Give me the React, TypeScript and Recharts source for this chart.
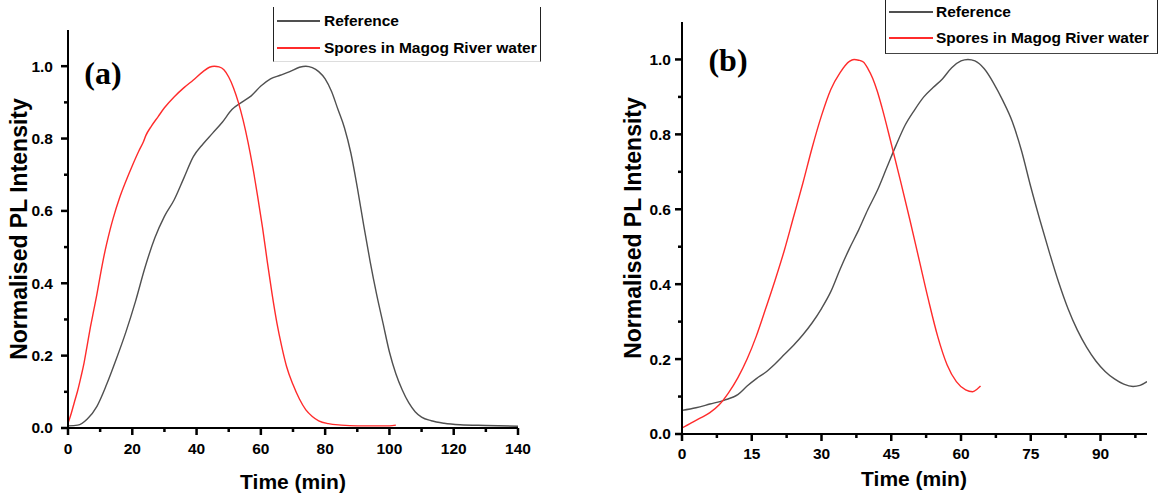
import { LineChart, Line, XAxis, YAxis } from "recharts";

// panel (a) series, [time in min, normalised intensity]
const refA = [
  [0, 0.006], [3, 0.008], [6, 0.025], [9, 0.06], [12, 0.12], [15, 0.19], [18, 0.265],
  [21, 0.35], [24, 0.445], [27, 0.525], [30, 0.585], [33, 0.63], [36, 0.69], [39, 0.75],
  [42, 0.785], [45, 0.815], [48, 0.845], [51, 0.88], [54, 0.9], [57, 0.918], [60, 0.945],
  [63, 0.965], [66, 0.975], [69, 0.985], [72, 0.997], [74, 1.0], [76, 0.996], [78, 0.985],
  [80, 0.965], [82, 0.93], [84, 0.88], [86, 0.83], [88, 0.76], [90, 0.665], [92, 0.56],
  [94, 0.46], [96, 0.37], [98, 0.29], [100, 0.21], [102, 0.15], [104, 0.105], [106, 0.07],
  [108, 0.045], [110, 0.03], [113, 0.02], [117, 0.013], [122, 0.009], [130, 0.007], [140, 0.005],
];
const sporesA = [
  [0, 0.013], [1, 0.04], [2, 0.072], [3, 0.103], [4, 0.14], [5, 0.18], [6, 0.23], [7, 0.28],
  [8, 0.325], [9, 0.37], [10, 0.42], [11, 0.467], [12, 0.508], [13, 0.545], [14, 0.578],
  [16, 0.635], [18, 0.682], [20, 0.725], [22, 0.765], [23.5, 0.792], [24.2, 0.808], [26, 0.835],
  [28, 0.86], [30, 0.885], [33, 0.915], [36, 0.94], [39, 0.962], [42, 0.985], [44, 0.997],
  [45.5, 1.0], [47, 0.998], [48.5, 0.99], [50, 0.97], [51.5, 0.94], [53, 0.9], [54.5, 0.85],
  [56, 0.79], [57.5, 0.72], [59, 0.64], [60.5, 0.555], [62, 0.46], [63.5, 0.37], [65, 0.29],
  [66.5, 0.225], [68, 0.17], [70, 0.12], [72, 0.08], [74, 0.05], [76, 0.032], [78, 0.02],
  [81, 0.012], [85, 0.008], [90, 0.006], [95, 0.006], [100, 0.006], [102, 0.008],
];

// panel (b) series
const refB = [
  [0, 0.063], [3, 0.07], [6, 0.08], [9, 0.09], [12, 0.105], [14, 0.128], [16, 0.148],
  [18, 0.165], [20, 0.187], [22, 0.212], [24, 0.237], [26, 0.265], [28, 0.297], [30, 0.335],
  [32, 0.38], [34, 0.44], [36, 0.495], [38, 0.545], [40, 0.6], [42, 0.65], [44, 0.71],
  [46, 0.77], [48, 0.825], [50, 0.865], [52, 0.9], [54, 0.925], [56, 0.948], [58, 0.978],
  [60, 0.996], [61.5, 1.0], [63, 0.996], [65, 0.975], [67, 0.937], [69, 0.89], [71, 0.835],
  [73, 0.757], [75, 0.66], [77, 0.57], [79, 0.485], [81, 0.405], [83, 0.335], [85, 0.278],
  [87, 0.232], [89, 0.195], [91, 0.167], [93, 0.147], [95, 0.133], [97, 0.127], [98.5, 0.13],
  [100, 0.14],
];
const sporesB = [
  [0, 0.016], [2, 0.03], [4, 0.043], [6, 0.057], [8, 0.078], [10, 0.11], [12, 0.15],
  [14, 0.2], [16, 0.262], [18, 0.335], [20, 0.41], [22, 0.49], [24, 0.58], [26, 0.67],
  [28, 0.765], [30, 0.85], [32, 0.92], [34, 0.965], [36, 0.995], [37, 1.0], [38, 0.998],
  [39, 0.993], [40, 0.975], [41, 0.95], [42, 0.915], [43, 0.872], [45, 0.775], [47, 0.675],
  [49, 0.572], [51, 0.465], [53, 0.358], [55, 0.26], [57, 0.185], [59, 0.14], [61, 0.118],
  [62.5, 0.113], [63.5, 0.12], [64.2, 0.128],
];

const xTicksA = [0, 10, 20, 30, 40, 50, 60, 70, 80, 90, 100, 110, 120, 130, 140];
const xTicksB = [0, 7.5, 15, 22.5, 30, 37.5, 45, 52.5, 60, 67.5, 75, 82.5, 90, 97.5];
const yTicks = [0, 0.1, 0.2, 0.3, 0.4, 0.5, 0.6, 0.7, 0.8, 0.9, 1.0];

const seriesNames = ["Reference", "Spores in Magog River water"];
const GREY = "#505050";
const RED = "#ff2b2b";
const FONT = "'Liberation Sans', Arial, sans-serif";
const MAJOR = 7;
const MINOR = 4;

const toRows = (pts: number[][]) => pts.map(([t, v]) => ({ t, v }));
const isMajor = (v: number, step: number) => Math.abs(v / step - Math.round(v / step)) < 1e-6;

// the tick itself is drawn here (tickSize 0 puts x/y right on the axis)
const makeXTick = (majorStep: number, labelGap: number) => (props: any) => {
  const { x, y, payload } = props;
  const major = isMajor(payload.value, majorStep);
  return (
    <g>
      <rect x={x - 1.25} y={y} width={2.5} height={major ? MAJOR : MINOR} fill="#000" stroke="none" />
      {major && (
        <text x={x} y={y + labelGap} dy="0.35em" textAnchor="middle" fontFamily={FONT}
          fontWeight="bold" fontSize={15.5} fill="#000" stroke="none">
          {payload.value}
        </text>
      )}
    </g>
  );
};

const makeYTick = (labelGap: number) => (props: any) => {
  const { x, y, payload } = props;
  const major = isMajor(payload.value, 0.2);
  const len = major ? MAJOR : MINOR;
  return (
    <g>
      <rect x={x - len} y={y - 1.25} width={len} height={2.5} fill="#000" stroke="none" />
      {major && (
        <text x={x - labelGap} y={y} dy="0.35em" textAnchor="end" fontFamily={FONT}
          fontWeight="bold" fontSize={15.5} fill="#000" stroke="none">
          {payload.value.toFixed(1)}
        </text>
      )}
    </g>
  );
};

const title = (text: string, cx: number, cy: number, size: number, rotate = false) => () => (
  <text x={cx} y={cy} dy="0.35em" textAnchor="middle" fontFamily={FONT} fontWeight="bold"
    fontSize={size} fill="#000" transform={rotate ? `rotate(-90 ${cx} ${cy})` : undefined}>
    {text}
  </text>
);

const LegendBox = ({ left, top, width, height, rows, sample, textLeft, bottomColor }: any) => (
  <div style={{
    position: "absolute", left, top, width, height, boxSizing: "border-box",
    borderLeft: "1.5px solid #222", borderRight: "1.5px solid #222",
    borderBottom: `1px solid ${bottomColor}`, background: "#fff",
  }}>
    {seriesNames.map((name, i) => (
      <div key={name} style={{ position: "absolute", left: 0, top: rows[i] - 10, height: 20, width: "100%" }}>
        <div style={{
          position: "absolute", left: sample[0], width: sample[1], top: 9, height: 2,
          background: i === 0 ? GREY : RED,
        }} />
        <div style={{
          position: "absolute", left: textLeft, top: 0, lineHeight: "20px",
          fontFamily: FONT, fontWeight: "bold", fontSize: 15.5, color: "#000", whiteSpace: "nowrap",
        }}>
          {name}
        </div>
      </div>
    ))}
  </div>
);

const PanelTag = ({ text, cx, cy }: any) => (
  <div style={{
    position: "absolute", left: cx, top: cy, transform: "translate(-50%, -50%)",
    fontFamily: "'Liberation Serif', 'Times New Roman', serif", fontWeight: "bold",
    fontSize: 32, lineHeight: 1, color: "#000",
  }}>
    {text}
  </div>
);

const axisStyle = { stroke: "#000", strokeWidth: 2 };

export default function App() {
  return (
    <div style={{ position: "absolute", left: 0, top: 0, width: 1161, height: 498, background: "#fff", overflow: "hidden" }}>
      <div style={{ position: "absolute", left: 0, top: 0 }}>
        <LineChart width={580} height={498} margin={{ top: 30, right: 62, bottom: 0, left: 0 }}>
          <XAxis type="number" dataKey="t" domain={[0, 140]} ticks={xTicksA} interval={0}
            height={70} tickSize={0} tickMargin={0} tick={makeXTick(20, 21)} tickLine={false}
            axisLine={axisStyle} allowDataOverflow
            label={title("Time (min)", 293, 482, 21)} />
          <YAxis type="number" domain={[0, 1.1]} ticks={yTicks} interval={0} width={68}
            tickSize={0} tickMargin={0} tick={makeYTick(15)} tickLine={false}
            axisLine={axisStyle} allowDataOverflow
            label={title("Normalised PL Intensity", 19, 229, 23, true)} />
          <Line data={toRows(refA)} dataKey="v" type="monotone" stroke={GREY} strokeWidth={1.4}
            dot={false} isAnimationActive={false} name={seriesNames[0]} />
          <Line data={toRows(sporesA)} dataKey="v" type="monotone" stroke={RED} strokeWidth={1.4}
            dot={false} isAnimationActive={false} name={seriesNames[1]} />
        </LineChart>
      </div>
      <div style={{ position: "absolute", left: 581, top: 0 }}>
        <LineChart width={580} height={498} margin={{ top: 22, right: 14, bottom: 0, left: 0 }}>
          <XAxis type="number" dataKey="t" domain={[0, 100]} ticks={xTicksB} interval={0}
            height={64} tickSize={0} tickMargin={0} tick={makeXTick(15, 20)} tickLine={false}
            axisLine={axisStyle} allowDataOverflow
            label={title("Time (min)", 333, 479, 21)} />
          <YAxis type="number" domain={[0, 1.1]} ticks={yTicks} interval={0} width={101}
            tickSize={0} tickMargin={0} tick={makeYTick(11)} tickLine={false}
            axisLine={axisStyle} allowDataOverflow
            label={title("Normalised PL Intensity", 52, 228, 23, true)} />
          <Line data={toRows(refB)} dataKey="v" type="monotone" stroke={GREY} strokeWidth={1.4}
            dot={false} isAnimationActive={false} name={seriesNames[0]} />
          <Line data={toRows(sporesB)} dataKey="v" type="monotone" stroke={RED} strokeWidth={1.4}
            dot={false} isAnimationActive={false} name={seriesNames[1]} />
        </LineChart>
      </div>
      <LegendBox left={273} top={7} width={268} height={55} rows={[14, 41]} sample={[3, 43]}
        textLeft={50} bottomColor="#ddd" />
      <LegendBox left={885} top={-1} width={273} height={55} rows={[13, 39]} sample={[3, 44]}
        textLeft={50} bottomColor="#444" />
      <PanelTag text="(a)" cx={103} cy={73} />
      <PanelTag text="(b)" cx={728} cy={60} />
    </div>
  );
}
